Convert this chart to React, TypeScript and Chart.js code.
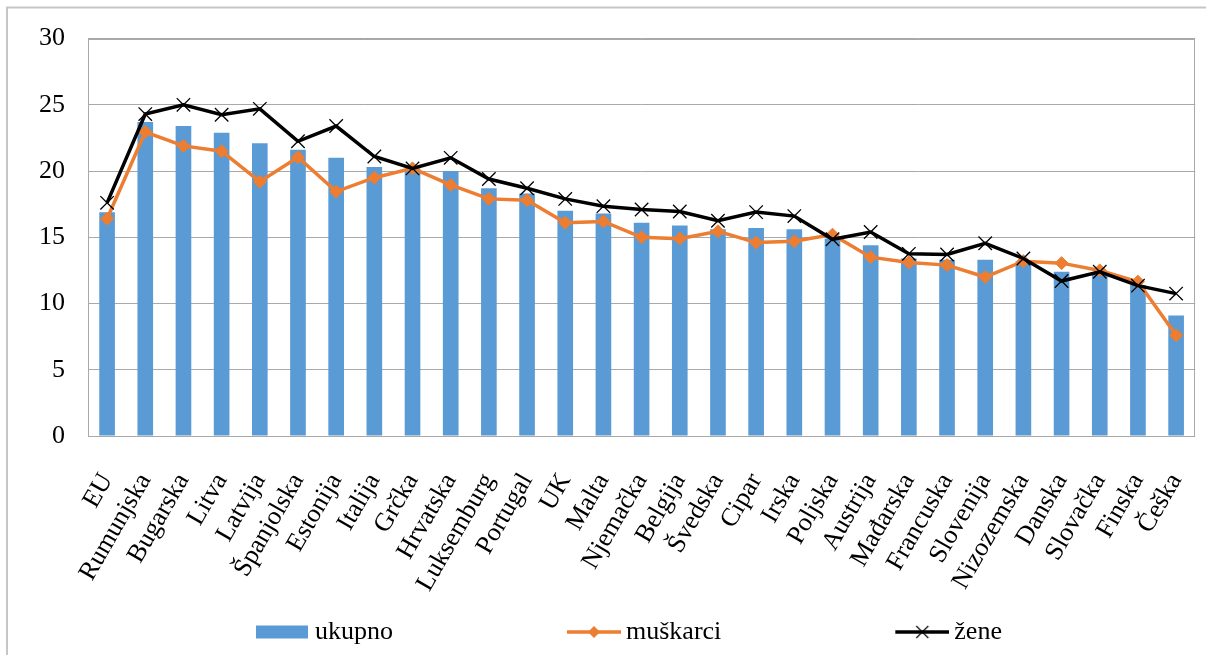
import React, { useEffect, useRef } from 'react';
import { Chart, registerables } from 'chart.js';

Chart.register(...registerables);

const categories = ['EU', 'Rumunjska', 'Bugarska', 'Litva', 'Latvija', 'Španjolska', 'Estonija', 'Italija', 'Grčka', 'Hrvatska', 'Luksemburg', 'Portugal', 'UK', 'Malta', 'Njemačka', 'Belgija', 'Švedska', 'Cipar', 'Irska', 'Poljska', 'Austrija', 'Mađarska', 'Francuska', 'Slovenija', 'Nizozemska', 'Danska', 'Slovačka', 'Finska', 'Češka'];

const ukupno = [16.9, 23.7, 23.4, 22.9, 22.1, 21.6, 21.0, 20.3, 20.2, 20.0, 18.7, 18.3, 17.0, 16.8, 16.1, 15.9, 15.6, 15.7, 15.6, 14.9, 14.4, 13.4, 13.3, 13.3, 13.2, 12.4, 12.3, 11.4, 9.1];

const muskarci = [16.4, 22.95, 21.9, 21.5, 19.2, 21.05, 18.45, 19.5, 20.2, 18.95, 17.9, 17.8, 16.1, 16.2, 15.0, 14.9, 15.45, 14.6, 14.7, 15.2, 13.5, 13.1, 12.9, 12.0, 13.2, 13.05, 12.5, 11.65, 7.6];

const zene = [17.6, 24.3, 25.0, 24.25, 24.7, 22.25, 23.4, 21.1, 20.2, 21.0, 19.4, 18.7, 17.9, 17.35, 17.1, 16.95, 16.25, 16.9, 16.6, 14.85, 15.4, 13.75, 13.7, 14.55, 13.4, 11.7, 12.4, 11.35, 10.75];

const yTicks = [0, 5, 10, 15, 20, 25, 30];

const seriesLabels = ['ukupno', 'muškarci', 'žene'];

const BLUE = '#5B9BD5';
const ORANGE = '#ED7D31';
const BLACK = '#000000';
const GRID = '#a9a9a9';
const FONT = "'Liberation Serif', 'Times New Roman', serif";

const LEG_W = 210; // legend box slot width

function makeIcon(kind: string): HTMLCanvasElement {
  const c = document.createElement('canvas');
  const w = LEG_W + 16;
  const h = 20;
  c.width = w;
  c.height = h;
  const ctx = c.getContext('2d')!;
  const x0 = LEG_W - 38;
  const cy = h / 2;
  if (kind === 'bar') {
    ctx.fillStyle = BLUE;
    ctx.fillRect(x0, cy - 6.5, 52, 13);
  } else if (kind === 'orange') {
    ctx.strokeStyle = ORANGE;
    ctx.lineWidth = 3.5;
    ctx.beginPath();
    ctx.moveTo(x0, cy);
    ctx.lineTo(x0 + 54, cy);
    ctx.stroke();
    ctx.fillStyle = ORANGE;
    const mx = x0 + 27;
    ctx.beginPath();
    ctx.moveTo(mx - 6, cy);
    ctx.lineTo(mx, cy - 6);
    ctx.lineTo(mx + 6, cy);
    ctx.lineTo(mx, cy + 6);
    ctx.closePath();
    ctx.fill();
  } else {
    ctx.strokeStyle = BLACK;
    ctx.lineWidth = 3.5;
    ctx.beginPath();
    ctx.moveTo(x0, cy);
    ctx.lineTo(x0 + 54, cy);
    ctx.stroke();
    ctx.lineWidth = 1.2;
    const mx = x0 + 27;
    ctx.beginPath();
    ctx.moveTo(mx - 6, cy - 6);
    ctx.lineTo(mx + 6, cy + 6);
    ctx.moveTo(mx + 6, cy - 6);
    ctx.lineTo(mx - 6, cy + 6);
    ctx.stroke();
  }
  return c;
}

const framePlugin = {
  id: 'frame',
  beforeDraw(chart: any) {
    const { ctx, width, height } = chart;
    ctx.save();
    ctx.fillStyle = '#ffffff';
    ctx.fillRect(0, 0, width, height);
    ctx.strokeStyle = '#c6c6c6';
    ctx.lineWidth = 2;
    ctx.beginPath();
    ctx.moveTo(7, height);
    ctx.lineTo(7, 7.5);
    ctx.lineTo(width, 7.5);
    ctx.stroke();
    ctx.restore();
  },
  beforeDatasetsDraw(chart: any) {
    const { ctx, chartArea } = chart;
    ctx.save();
    ctx.strokeStyle = GRID;
    ctx.lineWidth = 1;
    ctx.strokeRect(
      Math.round(chartArea.left) + 0.5,
      Math.round(chartArea.top) + 0.5,
      Math.round(chartArea.right - chartArea.left) - 1,
      Math.round(chartArea.bottom - chartArea.top)
    );
    ctx.restore();
  },
};

export default function App() {
  const ref = useRef<HTMLCanvasElement>(null);

  useEffect(() => {
    if (!ref.current) return;
    const icons = [makeIcon('bar'), makeIcon('orange'), makeIcon('black')];
    const chart = new Chart(ref.current, {
      type: 'bar',
      data: {
        labels: categories,
        datasets: [
          {
            type: 'bar',
            label: seriesLabels[0],
            data: ukupno,
            backgroundColor: BLUE,
            barPercentage: 0.41,
            categoryPercentage: 1,
            order: 3,
          },
          {
            type: 'line',
            label: seriesLabels[1],
            data: muskarci,
            borderColor: ORANGE,
            backgroundColor: ORANGE,
            borderWidth: 3.5,
            pointStyle: 'rectRot',
            pointRadius: 6.5,
            pointBorderWidth: 1,
            pointBorderColor: ORANGE,
            pointBackgroundColor: ORANGE,
            tension: 0,
            fill: false,
            order: 2,
          },
          {
            type: 'line',
            label: seriesLabels[2],
            data: zene,
            borderColor: BLACK,
            backgroundColor: BLACK,
            borderWidth: 3.5,
            pointStyle: 'crossRot',
            pointRadius: 9.5,
            pointBorderWidth: 1.3,
            pointBorderColor: BLACK,
            tension: 0,
            fill: false,
            order: 1,
          },
        ] as any,
      },
      options: {
        animation: false,
        responsive: false,
        maintainAspectRatio: false,
        devicePixelRatio: 1,
        layout: { padding: { top: 38, left: 82, right: 8, bottom: 0 } },
        plugins: {
          tooltip: { enabled: false },
          legend: {
            position: 'bottom',
            align: 'start',
            labels: {
              usePointStyle: true,
              pointStyleWidth: LEG_W,
              boxHeight: 20,
              padding: 10,
              color: '#000',
              font: { family: FONT, size: 26 },
              generateLabels: (ch: any) =>
                ch.data.datasets.map((ds: any, i: number) => ({
                  text: ds.label,
                  pointStyle: icons[i],
                  fillStyle: 'rgba(0,0,0,0)',
                  strokeStyle: 'rgba(0,0,0,0)',
                  lineWidth: 0,
                  hidden: false,
                  datasetIndex: i,
                  fontColor: '#000',
                })),
            },
          },
        },
        scales: {
          x: {
            offset: true,
            grid: { display: false },
            border: { display: false },
            ticks: {
              autoSkip: false,
              maxRotation: 60,
              minRotation: 60,
              padding: 24,
              color: '#000',
              font: { family: FONT, size: 26 },
            },
            afterFit: (s: any) => {
              s.height = 173;
              s.paddingLeft = 0;
              s.paddingRight = 0;
            },
          },
          y: {
            min: 0,
            max: 30,
            afterBuildTicks: (s: any) => {
              s.ticks = yTicks.map((v) => ({ value: v }));
            },
            grid: { color: GRID, drawTicks: false, lineWidth: 1 },
            border: { display: false },
            ticks: {
              padding: 23,
              color: '#000',
              font: { family: FONT, size: 26 },
            },
            afterFit: (s: any) => {
              s.width = 6;
              s._computeLabelArea = () => undefined;
            },
          },
        },
      } as any,
      plugins: [framePlugin],
    });
    return () => chart.destroy();
  }, []);

  return (
    <div style={{ position: 'absolute', left: 0, top: 0, width: 1206, height: 655, overflow: 'hidden' }}>
      <canvas ref={ref} width={1206} height={655} style={{ display: 'block', width: 1206, height: 655 }} />
    </div>
  );
}
